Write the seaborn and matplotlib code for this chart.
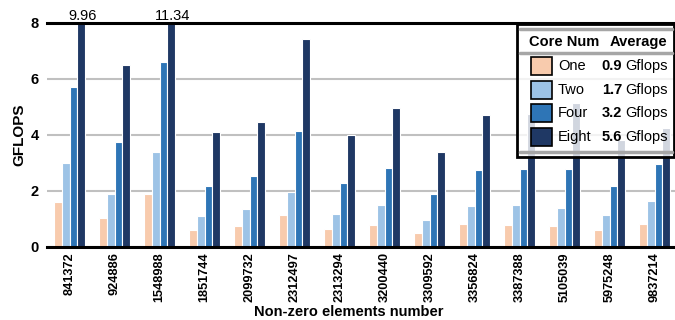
import matplotlib
matplotlib.use('Agg')
import matplotlib.pyplot as plt
import seaborn as sns
import pandas as pd
from matplotlib.patches import Rectangle
from matplotlib.lines import Line2D

# data
matrices = ['841372', '924886', '1548988', '1851744', '2099732', '2312497', '2313294',
            '3200440', '3309592', '3356824', '3387388', '5105039', '5975248', '9837214']
one = [1.60, 1.02, 1.90, 0.60, 0.75, 1.15, 0.62, 0.77, 0.50, 0.80, 0.77, 0.74, 0.60, 0.82]
two = [3.00, 1.90, 3.40, 1.10, 1.35, 1.97, 1.17, 1.48, 0.95, 1.45, 1.50, 1.40, 1.12, 1.63]
four = [5.70, 3.73, 6.60, 2.17, 2.52, 4.15, 2.29, 2.80, 1.90, 2.75, 2.77, 2.77, 2.17, 2.94]
eight = [9.96, 6.50, 11.34, 4.10, 4.47, 7.42, 3.98, 4.94, 3.39, 4.72, 4.75, 5.13, 3.81, 4.24]
cores = ['One', 'Two', 'Four', 'Eight']
averages = ['0.9', '1.7', '3.2', '5.6']
colors = ['#f8cbad', '#9dc3e6', '#2e75b6', '#1f3864']

W, H = 675, 320

sns.set_theme(style='white')
plt.rcParams['font.family'] = ['Liberation Sans', 'DejaVu Sans']
plt.rcParams.update({'text.color': 'black', 'axes.labelcolor': 'black',
                     'xtick.color': 'black', 'ytick.color': 'black'})

df = pd.DataFrame({
    'matrix': matrices * 4,
    'gflops': one + two + four + eight,
    'core': [c for c in cores for _ in matrices],
})

fig = plt.figure(figsize=(W / 100, H / 100), dpi=100)
ax = fig.add_axes([47 / W, 73.3 / H, (W - 47) / W, 224 / H])

sns.barplot(data=df, x='matrix', y='gflops', hue='core', hue_order=cores,
            palette=colors, saturation=1, width=0.68, edgecolor='white', linewidth=0.8,
            legend=False, ax=ax, zorder=2)

ax.set_ylim(0, 8)
ax.set_xlim(-0.5, 13.45)
ax.set_yticks([0, 2, 4, 6, 8])
ax.yaxis.grid(True, color='#c0c0c0', linewidth=1.5)
ax.set_axisbelow(True)
for s in ['left', 'right']:
    ax.spines[s].set_visible(False)
for s in ['top', 'bottom']:
    ax.spines[s].set_linewidth(2.2)
    ax.spines[s].set_color('black')
    ax.spines[s].set_zorder(3)

ax.tick_params(axis='y', length=4, width=1.5, pad=2, labelsize=10.5)
ax.tick_params(axis='x', length=0, pad=4, labelsize=9.2, rotation=90)
for tick, v in zip(ax.yaxis.get_major_ticks(), [0, 2, 4, 6, 8]):
    tick.tick1line.set_color('black' if v in (0, 8) else '#c0c0c0')
    tick.tick1line.set_markeredgewidth(2.2 if v in (0, 8) else 1.5)
for lab in ax.get_xticklabels() + ax.get_yticklabels():
    lab.set_fontweight('bold')

ax.set_xlabel('Non-zero elements number', fontsize=10.5, fontweight='bold', labelpad=2)
ax.xaxis.label.set_x((348.5 - 47) / (W - 47))
ax.set_ylabel('GFLOPS', fontsize=11, fontweight='bold', labelpad=3)

# values that go above the clipped axis
for bar, v in zip(ax.containers[3], eight):
    if v > 8:
        ax.text(bar.get_x() + bar.get_width() / 2 + 0.04, 8, f'{v:.2f}', ha='center',
                va='bottom', fontsize=10.5, clip_on=False)


# table-like legend, drawn in pixel coords (y from top)
def fx(x):
    return x / W


def fy(y):
    return 1 - y / H


tf = fig.transFigure
ax.add_patch(Rectangle((fx(517), fy(157)), fx(674) - fx(517), fy(24) - fy(157),
                       transform=tf, facecolor='white', alpha=0.8, edgecolor='none',
                       clip_on=False, zorder=10))
ax.add_patch(Rectangle((fx(517), fy(157)), fx(674) - fx(517), fy(24) - fy(157),
                       transform=tf, facecolor='none', edgecolor='black', linewidth=2,
                       clip_on=False, zorder=11))
for yy in [29, 53, 152]:
    ax.add_line(Line2D([fx(520), fx(672)], [fy(yy), fy(yy)], transform=tf,
                       color='#a6a6a6', linewidth=2.5, clip_on=False, zorder=11))
fig.text(fx(529), fy(42), 'Core Num', fontsize=10.5, fontweight='bold', va='center', zorder=12)
fig.text(fx(610), fy(42), 'Average', fontsize=10.5, fontweight='bold', va='center', zorder=12)
for i, (c, col, a) in enumerate(zip(cores, colors, averages)):
    yc = 66 + i * 23.7
    ax.add_patch(Rectangle((fx(531), fy(yc + 9)), fx(552) - fx(531), fy(yc - 9) - fy(yc + 9),
                           transform=tf, facecolor=col, edgecolor='black', linewidth=1.2,
                           clip_on=False, zorder=12))
    fig.text(fx(558), fy(yc), c, fontsize=10.5, va='center', zorder=12)
    fig.text(fx(622), fy(yc), a, fontsize=10.5, fontweight='bold', va='center', ha='right', zorder=12)
    fig.text(fx(625), fy(yc), 'Gflops', fontsize=10.5, va='center', zorder=12)

fig.savefig('out.png', dpi=100)
